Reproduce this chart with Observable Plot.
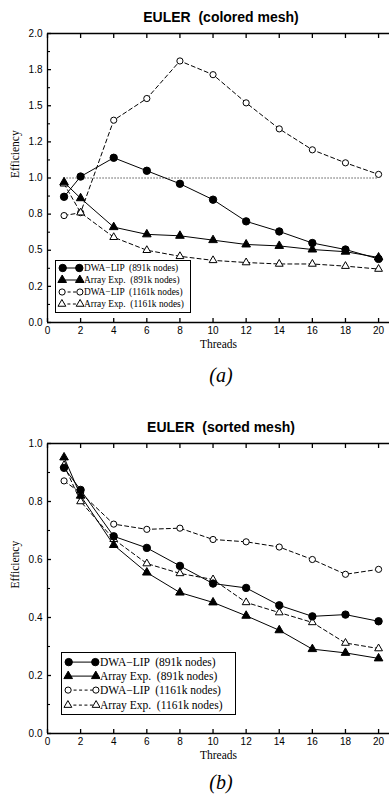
<!DOCTYPE html>
<html><head><meta charset="utf-8">
<script src="https://cdn.jsdelivr.net/npm/d3@7"></script>
<script src="https://cdn.jsdelivr.net/npm/@observablehq/plot@0.6"></script>
<style>
body{margin:0;background:#fff;}
#page{position:relative;width:389px;height:795px;overflow:hidden;background:#fff;}
.abs{position:absolute;}
.title{left:50px;width:342px;text-align:center;font:bold 14px "Liberation Sans",Arial,sans-serif;line-height:16px;color:#000;white-space:pre;}
.cap{left:50px;width:342px;text-align:center;font:italic 20px "Liberation Serif","Times New Roman",serif;line-height:22px;color:#000;}
.legend{border:1px solid #000;background:#fff;font-family:"Liberation Serif","Times New Roman",serif;color:#000;box-sizing:border-box;}
.legend .row{display:flex;align-items:center;white-space:pre;}
.legend svg{display:block;flex:none;}
</style></head><body><div id="page"></div>
<script>
// ---------- data ----------
const threads = [1, 2, 4, 6, 8, 10, 12, 14, 16, 18, 20];
const seriesNames = ["DWA−LIP  (891k nodes)", "Array Exp.  (891k nodes)", "DWA−LIP  (1161k nodes)", "Array Exp.  (1161k nodes)"];

// (a) colored mesh
const aDwa891   = [0.87, 1.01, 1.14, 1.05, 0.96, 0.85, 0.70, 0.63, 0.55, 0.505, 0.44];
const aArr891   = [0.97, 0.86, 0.66, 0.61, 0.60, 0.57, 0.54, 0.53, 0.505, 0.49, 0.45];
const aDwa1161  = [0.74, 0.76, 1.40, 1.55, 1.81, 1.715, 1.52, 1.34, 1.195, 1.105, 1.025];
const aArr1161  = [0.96, 0.76, 0.59, 0.50, 0.458, 0.43, 0.415, 0.405, 0.405, 0.39, 0.37];
const aRefLine  = [1, 20];     // threads span of dotted reference line
const aRefValue = 1.0;

// (b) sorted mesh
const bDwa891   = [0.916, 0.84, 0.68, 0.64, 0.578, 0.517, 0.502, 0.442, 0.404, 0.41, 0.387];
const bArr891   = [0.952, 0.82, 0.65, 0.555, 0.486, 0.452, 0.406, 0.356, 0.291, 0.278, 0.259];
const bDwa1161  = [0.871, 0.83, 0.722, 0.704, 0.708, 0.669, 0.661, 0.643, 0.60, 0.549, 0.566];
const bArr1161  = [0.925, 0.80, 0.67, 0.586, 0.552, 0.531, 0.452, 0.417, 0.383, 0.312, 0.293];

// axes
const xTicks = [0, 2, 4, 6, 8, 10, 12, 14, 16, 18, 20];
const aYTicks = [0, 0.25, 0.5, 0.75, 1.0, 1.25, 1.5, 1.75, 2.0];
const aYTickLabels = ["0.0", "0.2", "0.5", "0.8", "1.0", "1.2", "1.5", "1.8", "2.0"];
const aYMinor = [0.125, 0.375, 0.625, 0.875, 1.125, 1.375, 1.625, 1.875];
const bYTicks = [0, 0.2, 0.4, 0.6, 0.8, 1.0];
const bYTickLabels = ["0.0", "0.2", "0.4", "0.6", "0.8", "1.0"];
const bYMinor = [0.1, 0.3, 0.5, 0.7, 0.9];

const titles = ["EULER  (colored mesh)", "EULER  (sorted mesh)"];
const captions = ["(a)", "(b)"];
const xLabel = "Threads";
const yLabel = "Efficiency";

// ---------- styles ----------
const styles = [
  {symbol: "circle",   fill: "black", dash: null,  r: 3.7},
  {symbol: "triangle", fill: "black", dash: null,  r: 3.2},
  {symbol: "circle",   fill: "white", dash: "4,3", r: 3.1},
  {symbol: "triangle", fill: "white", dash: "4,3", r: 2.9}
];
const dotOrder = [2, 3, 0, 1]; // open markers beneath filled ones

function toRows(vals, k) { return threads.map((t, i) => ({t, v: vals[i], k})); }

function makeChart(cfg) {
  const all = cfg.series.map((s, k) => toRows(s, k));
  const labelMap = new Map(cfg.yTicks.map((d, i) => [d, cfg.yTickLabels[i]]));
  const marks = [
    Plot.ruleX([cfg.xDomain[0]], {strokeWidth: 1.3}),
    Plot.ruleY([cfg.yDomain[0]], {strokeWidth: 1.3}),
    Plot.ruleY([cfg.yDomain[1]], {strokeWidth: 1.3}),
    Plot.axisX(xTicks, {anchor: "bottom", tickSize: -4, tickPadding: 8, label: null,
      fontSize: 10, fontFamily: '"Liberation Sans", Arial, sans-serif', strokeWidth: 1.3}),
    Plot.axisX(xTicks, {anchor: "top", tickSize: -4, tickFormat: () => "", label: null, strokeWidth: 1.3}),
    Plot.axisY(cfg.yTicks, {anchor: "left", tickSize: -4, tickPadding: 9, label: null,
      tickFormat: d => labelMap.get(d), fontSize: 10, fontFamily: '"Liberation Sans", Arial, sans-serif', strokeWidth: 1.3}),
    Plot.axisY(cfg.yMinor, {anchor: "left", tickSize: -3, tickFormat: () => "", label: null, strokeWidth: 1.1}),
    Plot.text([xLabel], {frameAnchor: "bottom", dy: 25, fontSize: 11.5, fontFamily: '"Liberation Serif", "Times New Roman", serif'}),
    Plot.text([yLabel], {frameAnchor: "left", rotate: -90, dx: -32, fontSize: 11.5, fontFamily: '"Liberation Serif", "Times New Roman", serif'})
  ];
  if (cfg.ref) {
    marks.push(Plot.ruleY([cfg.ref.value], {x1: cfg.ref.span[0], x2: cfg.ref.span[1], strokeDasharray: "1,2", strokeWidth: 1}));
  }
  all.forEach((rows, k) => {
    marks.push(Plot.line(rows, {x: "t", y: "v", stroke: "black", strokeWidth: 1, strokeDasharray: styles[k].dash}));
  });
  dotOrder.forEach(k => {
    const st = styles[k];
    marks.push(Plot.dot(all[k], {x: "t", y: "v", symbol: () => st.symbol, r: st.r, fill: st.fill, stroke: "black", strokeWidth: 1}));
  });
  return Plot.plot({
    width: 389, height: cfg.height,
    marginLeft: 47, marginRight: 0, marginTop: 33, marginBottom: cfg.marginBottom,
    x: {domain: cfg.xDomain},
    y: {domain: cfg.yDomain},
    symbol: {type: "identity"},
    style: {background: "transparent", overflow: "visible"},
    marks
  });
}

function makeLegend(cfg) {
  const div = document.createElement("div");
  div.className = "abs legend";
  Object.assign(div.style, {left: cfg.left + "px", top: cfg.top + "px", width: cfg.width + "px", height: cfg.height + "px",
    fontSize: cfg.fontSize + "px", padding: cfg.pad + "px 0 0 1px"});
  seriesNames.forEach((name, k) => {
    const st = styles[k];
    const row = document.createElement("div");
    row.className = "row";
    row.style.height = cfg.rowH + "px";
    const svg = d3.create("svg").attr("width", cfg.symW).attr("height", cfg.rowH);
    const r = st.r * cfg.scale;
    const x0 = r + 2, x1 = cfg.symW - r - 1, cy = cfg.rowH / 2;
    svg.append("line").attr("x1", x0).attr("x2", x1).attr("y1", cy).attr("y2", cy)
      .attr("stroke", "black").attr("stroke-width", 1).attr("stroke-dasharray", st.dash ? "3,2.5" : null);
    const size = Math.PI * r * r;
    const sym = d3.symbol(st.symbol === "circle" ? d3.symbolCircle : d3.symbolTriangle, size);
    [x0, x1].forEach(x => svg.append("path").attr("d", sym()).attr("transform", `translate(${x},${cy})`)
      .attr("fill", st.fill).attr("stroke", "black").attr("stroke-width", 1));
    row.appendChild(svg.node());
    const span = document.createElement("span");
    span.textContent = name;
    row.appendChild(span);
    div.appendChild(row);
  });
  return div;
}

const page = document.getElementById("page");
function place(el, top) { el.classList.add("abs"); el.style.left = "0px"; el.style.top = top + "px"; page.appendChild(el); }
function addText(cls, text, top) { const d = document.createElement("div"); d.className = "abs " + cls; d.textContent = text; d.style.top = top + "px"; page.appendChild(d); }

// chart (a)
const chartA = makeChart({series: [aDwa891, aArr891, aDwa1161, aArr1161], xDomain: [0, 20.66], yDomain: [0, 2.0],
  yTicks: aYTicks, yTickLabels: aYTickLabels, yMinor: aYMinor, height: 356, marginBottom: 34,
  ref: {value: aRefValue, span: aRefLine}});
place(chartA, 0);
addText("title", titles[0], 9);
page.appendChild(makeLegend({left: 55, top: 260, width: 136, height: 53, rowH: 12, symW: 27, fontSize: 9.4, pad: 1, scale: 1}));
addText("cap", captions[0], 364);

// chart (b)
const chartB = makeChart({series: [bDwa891, bArr891, bDwa1161, bArr1161], xDomain: [0, 20.66], yDomain: [0, 1.0],
  yTicks: bYTicks, yTickLabels: bYTickLabels, yMinor: bYMinor, height: 357, marginBottom: 34});
place(chartB, 410);
addText("title", titles[1], 419);
page.appendChild(makeLegend({left: 61, top: 652, width: 175, height: 63, rowH: 14.2, symW: 37, fontSize: 11.5, pad: 2, scale: 1}));
addText("cap", captions[1], 771);
</script>
</body></html>
